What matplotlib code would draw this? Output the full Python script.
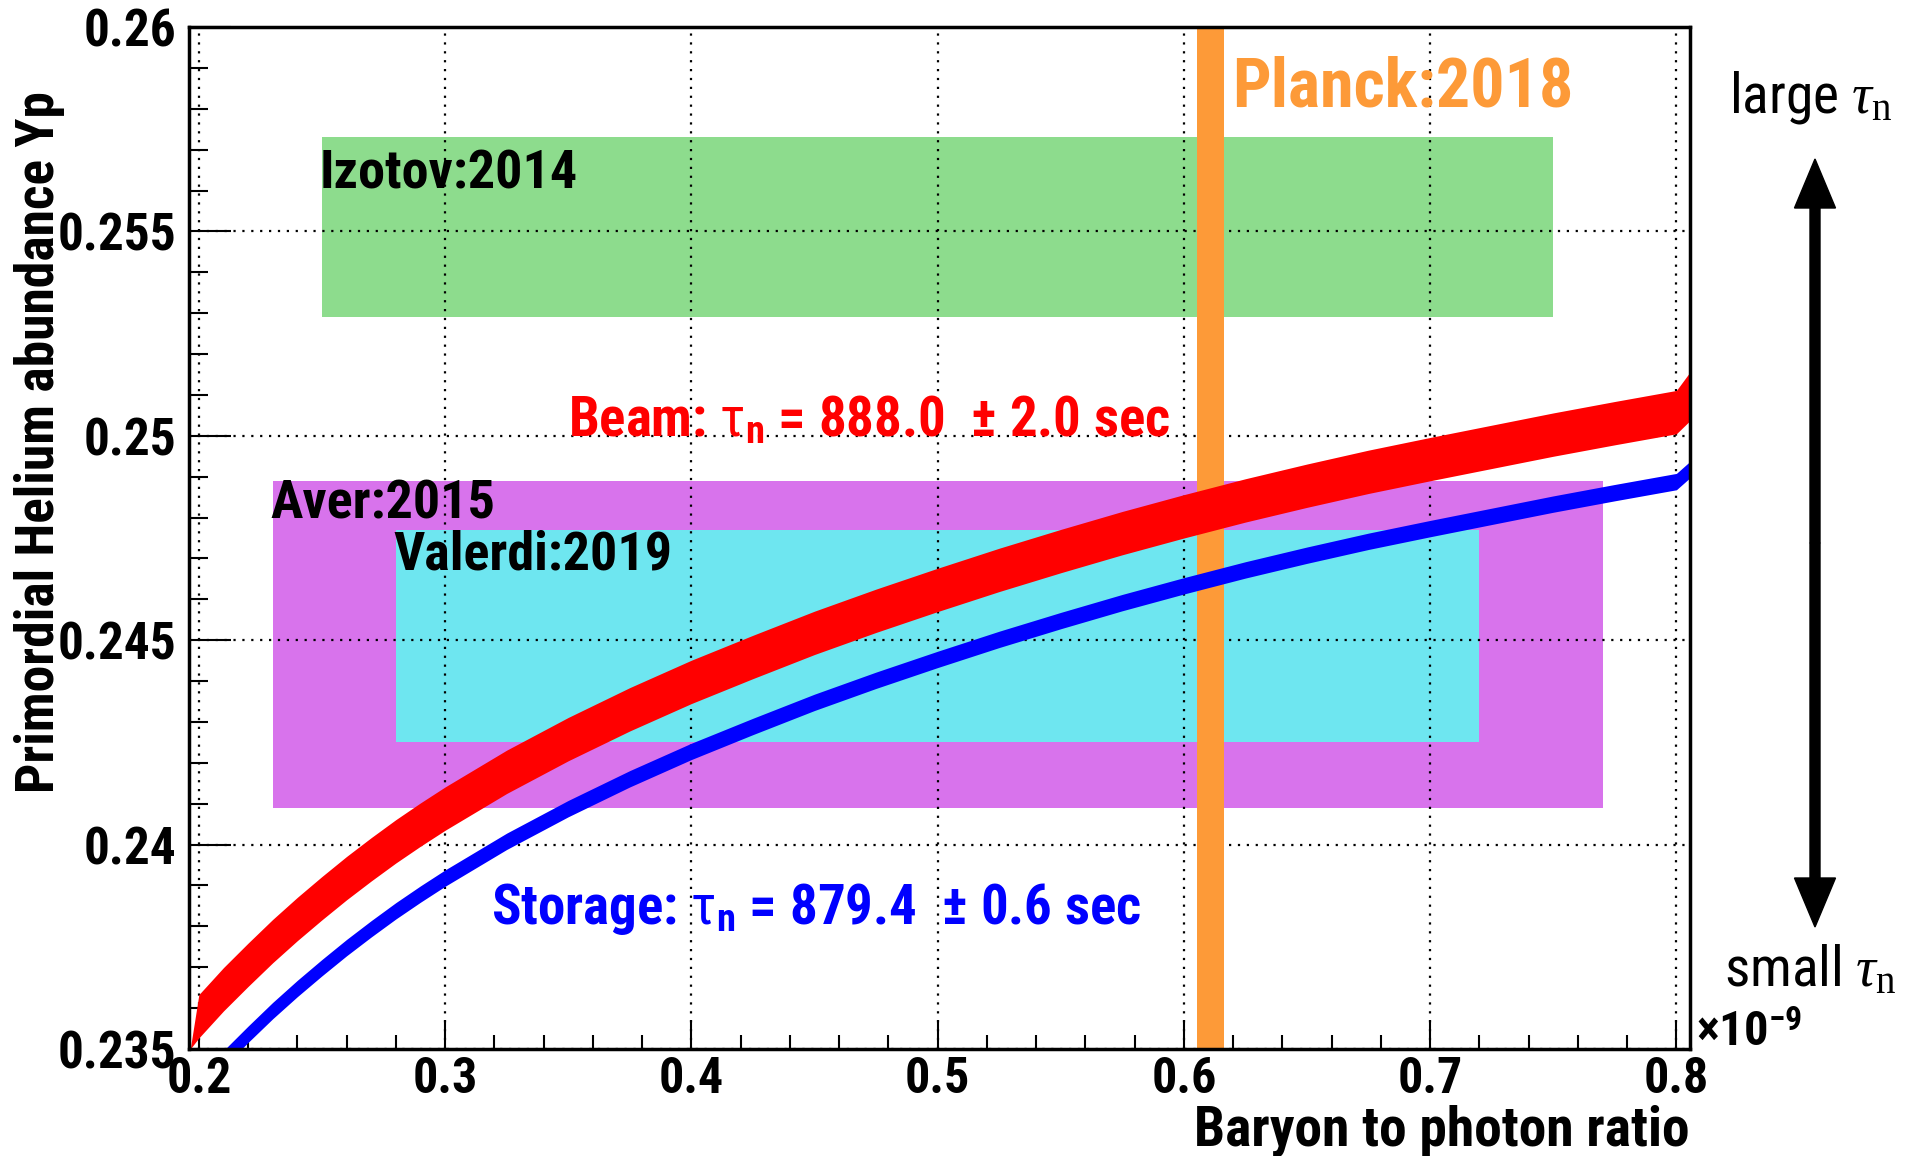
import matplotlib
matplotlib.use('Agg')
import matplotlib.pyplot as plt
from matplotlib.patches import FancyArrow
from matplotlib.transforms import IdentityTransform
import numpy as np

plt.rcParams['font.family'] = ['Roboto Condensed', 'DejaVu Sans']
plt.rcParams['mathtext.fontset'] = 'custom'
plt.rcParams['mathtext.rm'] = 'Liberation Serif'
plt.rcParams['mathtext.it'] = 'Liberation Serif:italic'
plt.rcParams['mathtext.bf'] = 'Roboto Condensed:bold'
plt.rcParams['mathtext.sf'] = 'Roboto Condensed'

# BBN prediction of Yp vs eta (x in units of 1e-9)
eta = [0.1965, 0.20, 0.21, 0.22, 0.23, 0.24, 0.25, 0.26, 0.27, 0.28, 0.29, 0.30,
       0.325, 0.35, 0.375, 0.40, 0.425, 0.45, 0.475, 0.50, 0.525, 0.55, 0.575,
       0.60, 0.625, 0.65, 0.675, 0.70, 0.725, 0.75, 0.775, 0.80, 0.806]
# beam lifetime band (888.0 +- 2.0 s)
beam_hi = [0.2350, 0.23633, 0.23699, 0.23759, 0.23817, 0.23871, 0.23922, 0.23971, 0.24017,
           0.24061, 0.24102, 0.24141, 0.24231, 0.24311, 0.24384, 0.24451, 0.24512, 0.24571,
           0.24625, 0.24676, 0.24725, 0.24771, 0.24815, 0.24856, 0.24895, 0.24931, 0.24965,
           0.24996, 0.25026, 0.25056, 0.25084, 0.25111, 0.2516]
beam_lo = [0.2350, 0.23527, 0.23593, 0.23653, 0.23711, 0.23765, 0.23816, 0.23865, 0.23911,
           0.23955, 0.23996, 0.24035, 0.24125, 0.24205, 0.24278, 0.24345, 0.24406, 0.24465,
           0.24519, 0.24570, 0.24619, 0.24665, 0.24709, 0.24750, 0.24789, 0.24825, 0.24859,
           0.24890, 0.24920, 0.24950, 0.24978, 0.25005, 0.2504]
# storage lifetime band (879.4 +- 0.6 s): centre and half width
storage_mid = [0.2338, 0.2341, 0.23476, 0.23536, 0.23594, 0.23648, 0.23699, 0.23748, 0.23794,
               0.23838, 0.23879, 0.23918, 0.24008, 0.24088, 0.24161, 0.24228, 0.24289, 0.24348,
               0.24402, 0.24453, 0.24502, 0.24548, 0.24592, 0.24633, 0.24672, 0.24708, 0.24742,
               0.24773, 0.24803, 0.24833, 0.24861, 0.24888, 0.2492]
storage_half = 0.0002

# observational boxes
obs_names = ['Izotov:2014', 'Aver:2015', 'Valerdi:2019']
obs_x0 = [0.25, 0.23, 0.28]
obs_x1 = [0.75, 0.77, 0.72]
obs_y0 = [0.2529, 0.2409, 0.2425]
obs_y1 = [0.2573, 0.2489, 0.2477]
obs_col = ['#8ddc8d', '#d873ec', '#6ee6f0']

# Planck 2018 eta band
planck_lo = 0.6052
planck_hi = 0.6162

fig = plt.figure(figsize=(19.13, 11.56), dpi=100)
ax = fig.add_axes([0.0988, 0.0926, 0.7846, 0.884])

for i in range(len(obs_names)):
    ax.fill_between([obs_x0[i], obs_x1[i]], obs_y0[i], obs_y1[i],
                    color=obs_col[i], lw=0, zorder=1)

ax.axvspan(planck_lo, planck_hi, color='#fd9a38', lw=0, zorder=3)
ax.fill_between(eta, beam_lo, beam_hi, color='#ff0000', lw=0, zorder=4)
st = np.array(storage_mid)
ax.fill_between(eta, st - storage_half, st + storage_half, color='#0000ff', lw=0, zorder=4)

ax.set_xlim(0.196, 0.8055)
ax.set_ylim(0.235, 0.26)
ax.set_xticks([0.2, 0.3, 0.4, 0.5, 0.6, 0.7, 0.8])
ax.set_xticks(np.arange(0.2, 0.8, 0.02), minor=True)
ax.set_yticks([0.235, 0.24, 0.245, 0.25, 0.255, 0.26])
ax.set_yticks(np.arange(0.235, 0.26, 0.001), minor=True)
ax.set_xticklabels(['0.2', '0.3', '0.4', '0.5', '0.6', '0.7', '0.8'])
ax.set_yticklabels(['0.235', '0.24', '0.245', '0.25', '0.255', '0.26'])
ax.grid(True, which='major', color='black', linestyle=(0, (1, 3)), lw=1.6)
for l in ax.get_xgridlines() + ax.get_ygridlines():
    l.set_zorder(2)

ax.tick_params(which='both', direction='in', top=False, right=False, width=1.5, color='black')
ax.tick_params(axis='x', which='major', length=21, pad=5)
ax.tick_params(axis='x', which='minor', length=10)
ax.tick_params(axis='y', which='major', length=30, pad=9)
ax.tick_params(axis='y', which='minor', length=14)
for lab in ax.get_yticklabels():
    lab.set_fontsize(37)
    lab.set_fontweight('bold')
for lab in ax.get_xticklabels():
    lab.set_fontsize(36)
    lab.set_fontweight('bold')
for s in ax.spines.values():
    s.set_linewidth(2.5)
    s.set_zorder(6)

# labels on the boxes
lab_x = [0.249, 0.229, 0.279]
lab_y = [0.2564, 0.24834, 0.24708]
for i in range(len(obs_names)):
    ax.text(lab_x[i], lab_y[i], obs_names[i], fontsize=39, fontweight='bold',
            color='black', ha='left', va='center', zorder=5)

ax.text(0.6196, 0.25851, 'Planck:2018', fontsize=49, fontweight='bold',
        color='#fd9a38', ha='left', va='center', zorder=5)
ax.text(0.35, 0.25036, 'Beam: $\\mathsf{\\tau}_\\mathbf{n}$ = 888.0  \u00b1 2.0 sec',
        fontsize=39.5, fontweight='bold', color='#ff0000', ha='left', va='center', zorder=5)
ax.text(0.3188, 0.23843, 'Storage: $\\mathsf{\\tau}_\\mathbf{n}$ = 879.4  \u00b1 0.6 sec',
        fontsize=39.5, fontweight='bold', color='#0000ff', ha='left', va='center', zorder=5)

# axis titles
fig.text(0.8834, 0.0095, 'Baryon to photon ratio', fontsize=40, fontweight='bold',
         ha='right', va='baseline')
fig.text(0.0204, 0.921, 'Primordial Helium abundance Yp', fontsize=38.5, fontweight='bold',
         rotation=90, ha='center', va='top')
fig.text(0.8865, 0.107, '\u00d710$^{\\mathbf{-9}}$', fontsize=35, fontweight='bold',
         ha='left', va='center')

# large / small tau arrow
fig.text(0.9037, 0.9156, 'large $\\tau_\\mathrm{n}$', fontsize=40, ha='left', va='center')
fig.text(0.901, 0.161, 'small $\\tau_\\mathrm{n}$', fontsize=40, ha='left', va='center')
ax_mid = 613
fig.add_artist(FancyArrow(1815, ax_mid, 0, 997 - ax_mid, width=10, head_width=41,
                          head_length=49, length_includes_head=True, color='black',
                          transform=IdentityTransform()))
fig.add_artist(FancyArrow(1815, ax_mid, 0, 229 - ax_mid, width=10, head_width=41,
                          head_length=49, length_includes_head=True, color='black',
                          transform=IdentityTransform()))

fig.savefig('out.png', dpi=100)
